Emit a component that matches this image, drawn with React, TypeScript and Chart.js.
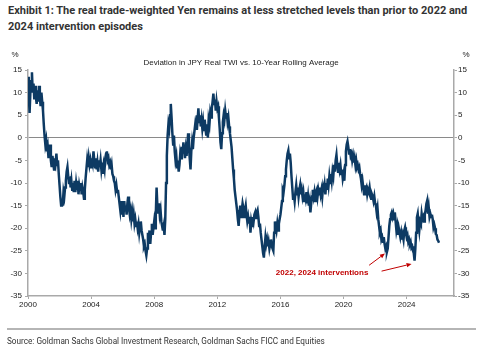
import React, { useEffect, useRef } from 'react';
import { Chart, registerables } from 'chart.js';

Chart.register(...registerables);

// Deviation of JPY real TWI from its 10-year rolling average (%), 20 readings per year from 2000
const values: number[] = [
  // 2000
  13.5, 9.5, 5.5, 10, 12.5, 14.5, 10, 12, 8.5, 11.5, 9, 7.5, 10.5, 8, 11.5, 9, 7, 10, 8, 6,
  // 2001
  3, 0.5, -1.5, -0.5, -3, -2, -4.5, -3, -1.5, -5, -6.5, -4, -5.5, -7, -4.5, -5.5, -3.5, -6, -5, -8,
  // 2002
  -10.5, -13, -15, -13.5, -15, -12, -13, -11, -9.5, -7.5, -6.5, -8.5, -10, -8.5, -11, -9.5, -11.5, -10, -12, -9.5,
  // 2003
  -12, -10, -11.5, -9.5, -12.5, -10.5, -11.5, -10, -12.5, -11, -12, -13.5, -11.5, -9, -7, -5, -6.5, -4.5, -6, -5,
  // 2004
  -6.5, -4.5, -5.5, -3, -5, -6.5, -4.5, -7, -5.5, -7.5, -5, -6.5, -5, -7, -5.5, -8, -6, -7, -4.5, -3.5,
  // 2005
  -3, -5, -4.5, -6, -5.5, -7, -6, -8, -8.5, -9.5, -10, -11.5, -10.5, -12, -11.5, -13, -14.5, -16, -14, -17,
  // 2006
  -15, -17.5, -14, -16, -15, -17, -14.5, -13, -15.5, -17, -16, -18, -16.5, -18.5, -17, -19, -18, -19.5, -18.5, -20,
  // 2007
  -19, -21, -19.5, -18.5, -20.5, -21.5, -22.5, -24, -23.5, -25, -26, -24.5, -21, -23, -20.5, -23.5, -21, -19, -21.5, -20,
  // 2008
  -18.5, -20, -17, -11, -15, -16.5, -14.5, -17, -16, -18.5, -19.5, -20.5, -19.5, -21.5, -18, -10, -4, 0.5, 3, 2,
  // 2009
  5, 7.5, 4.5, 1, -1.5, 0.5, -3, -5, -4, -6.5, -5, -7.5, -6, -3.5, -4.5, -2, -3.5, -1, -3, -4.5,
  // 2010
  -2.5, -4, -1.5, 1, -2, -4.5, -7, -3, -1, -2.5, 0, 1.5, 3, 2, 5, 4, 6.5, 3.5, 5, 2.5,
  // 2011
  4, 2, 3.5, 1.5, 4, 2, 0.5, 3, 0, 4, 3, 5.5, 4.5, 6.5, 8, 9.8, 7.5, 8.5, 6, 8,
  // 2012
  6.5, 7, 4.5, 2, -1, -2.5, 1, 3.5, 5, 4, 6, 4.5, 5.5, 3.5, 4.5, 2.5, 1, -0.5, -2, -4.5,
  // 2013
  -7, -9, -11.5, -13, -14.5, -16, -18, -19.5, -17, -15, -17.5, -16, -14.5, -15.5, -17.5, -16, -15, -17, -18.5, -17.5,
  // 2014
  -19, -17.5, -21, -18.5, -19.5, -17.5, -18.5, -17, -16.5, -18, -16.5, -16, -17.5, -19.5, -19, -21, -22.5, -24, -25.5, -26.5,
  // 2015
  -24, -22, -23.5, -22.5, -24, -23, -24.5, -23.5, -22.5, -24, -24.5, -25, -21, -18.5, -19.5, -20.5, -19, -20.5, -19, -18,
  // 2016
  -17, -15.5, -14, -11.5, -12, -10.5, -8.5, -7, -5, -3.5, -2.8, -4.5, -3.5, -5.5, -8.5, -11, -13.5, -12.5, -14, -12,
  // 2017
  -10.5, -12.5, -11, -13, -11.5, -10.5, -12.5, -11.5, -13, -12, -14, -12.5, -13.5, -12, -14.5, -13, -15, -14, -16.5, -14.5,
  // 2018
  -13, -11.5, -13, -12, -14, -12, -11.5, -13, -11.5, -12.5, -11, -12.5, -11.5, -13, -11, -12, -10.5, -12.5, -10, -11.5,
  // 2019
  -9, -10.5, -8.5, -10, -8, -9.5, -7.5, -8.5, -6, -7.5, -5, -3.8, -6, -7.5, -5.5, -7, -6, -8, -7, -9,
  // 2020
  -8, -9.5, -6, -3, -1.5, -0.8, -2, -3.5, -2.5, -4, -3.5, -5, -4, -5.5, -4.5, -6, -5, -6.5, -6, -7,
  // 2021
  -6.5, -8, -9, -10.5, -9.5, -11, -12.5, -10.5, -11.5, -11, -12.5, -11.5, -12, -11, -12.5, -13.5, -12.5, -13, -14, -13,
  // 2022
  -14.5, -15, -16.5, -15.5, -18, -19.5, -21, -20.5, -22.5, -22, -23, -22, -23.5, -24.5, -24, -25.2, -24.5, -22, -19.5, -18,
  // 2023
  -17, -16.5, -17.5, -16.8, -18, -16.5, -18.5, -20.5, -19.5, -21.5, -20, -21, -22, -21, -22.5, -21.5, -22.5, -20.5, -19.8, -21,
  // 2024
  -22, -21.5, -23, -22.5, -23.5, -23, -24.3, -24, -25, -25.5, -27.2, -24.5, -21, -17.6, -16.8, -19, -20.5, -18.5, -19, -16.8,
  // 2025
  -18, -17.5, -18.5, -17, -16, -14.6, -13.9, -16.8, -15.5, -17.5, -16.8, -17.5, -17, -18, -19.8, -19.2, -20, -21.3, -21.5, -22.5,
  // 2026
  -22.8, -23.2,
];

const START_YEAR = 2000;
const READINGS_PER_YEAR = 20;
const dates: number[] = values.map((_, i) => START_YEAR + i / READINGS_PER_YEAR);

const xTicks = [2000, 2004, 2008, 2012, 2016, 2020, 2024];
const yTicks = [15, 10, 5, 0, -5, -10, -15, -20, -25, -30, -35];

const titleLine1 = 'Exhibit 1: The real trade-weighted Yen remains at less stretched levels than prior to 2022 and';
const titleLine2 = '2024 intervention episodes';
const chartSubtitle = 'Deviation in JPY Real TWI vs. 10-Year Rolling Average';
const unitLabel = '%';
const annotationText = '2022, 2024 interventions';
const sourceText = 'Source: Goldman Sachs Global Investment Research, Goldman Sachs FICC and Equities';

// annotation anchor points in data coordinates [year, value]
const annotationPos: [number, number] = [2018.64, -29.9];
const arrows: [number, number, number, number][] = [
  [2021.62, -28.2, 2022.62, -25.6],
  [2022.41, -29.5, 2024.31, -27.9],
];

const FONT = '"Liberation Sans", Arial, sans-serif';

const overlayPlugin = {
  id: 'overlay',
  afterDraw(chart: any) {
    const { ctx, chartArea, scales } = chart;
    const sx = scales.x;
    const sy = scales.y;
    ctx.save();
    ctx.fillStyle = '#222';
    ctx.font = `8px ${FONT}`;
    ctx.textBaseline = 'middle';
    ctx.textAlign = 'center';
    ctx.fillText(chartSubtitle, (chartArea.left + chartArea.right) / 2, 63);
    ctx.fillText(unitLabel, 15, 55);
    ctx.fillText(unitLabel, 466, 55);

    ctx.fillStyle = '#c00000';
    ctx.strokeStyle = '#c00000';
    ctx.font = `bold 8px ${FONT}`;
    ctx.fillText(annotationText, sx.getPixelForValue(annotationPos[0]), sy.getPixelForValue(annotationPos[1]));
    ctx.lineWidth = 1;
    for (const [x0, y0, x1, y1] of arrows) {
      const px0 = sx.getPixelForValue(x0);
      const py0 = sy.getPixelForValue(y0);
      const px1 = sx.getPixelForValue(x1);
      const py1 = sy.getPixelForValue(y1);
      const ang = Math.atan2(py1 - py0, px1 - px0);
      const hl = 5;
      const hw = 2.2;
      const bx = px1 - hl * Math.cos(ang);
      const by = py1 - hl * Math.sin(ang);
      ctx.beginPath();
      ctx.moveTo(px0, py0);
      ctx.lineTo(bx, by);
      ctx.stroke();
      ctx.beginPath();
      ctx.moveTo(px1, py1);
      ctx.lineTo(bx + hw * Math.sin(ang), by - hw * Math.cos(ang));
      ctx.lineTo(bx - hw * Math.sin(ang), by + hw * Math.cos(ang));
      ctx.closePath();
      ctx.fill();
    }
    ctx.restore();
  },
};

const AXIS_COLOR = '#a9a9a9';
const TICK_FONT = { family: FONT, size: 8 };

export default function App() {
  const canvasRef = useRef<HTMLCanvasElement | null>(null);

  useEffect(() => {
    if (!canvasRef.current) return;
    const chart = new Chart(canvasRef.current, {
      type: 'line',
      data: {
        datasets: [
          {
            data: dates.map((d, i) => ({ x: d, y: values[i] })),
            borderColor: '#0d3a63',
            borderWidth: 2.5,
            pointRadius: 0,
            tension: 0,
            fill: false,
          },
        ],
      },
      options: {
        animation: false,
        responsive: false,
        devicePixelRatio: 1,
        layout: { padding: { top: 70, left: 0, right: 0, bottom: 0 } },
        plugins: { legend: { display: false }, tooltip: { enabled: false }, title: { display: false } },
        scales: {
          x: {
            type: 'linear',
            min: 2000,
            max: 2027,
            afterFit: (s: any) => { s.height = 54; },
            afterBuildTicks: (s: any) => { s.ticks = xTicks.map((v) => ({ value: v })); },
            ticks: { callback: (v: any) => String(v), color: '#222', font: TICK_FONT, padding: 1, maxRotation: 0, autoSkip: false },
            grid: { drawOnChartArea: false, tickLength: 3, tickColor: AXIS_COLOR },
            border: { color: AXIS_COLOR, width: 1.5 },
          },
          y: {
            type: 'linear',
            position: 'left',
            min: -35,
            max: 15,
            afterFit: (s: any) => { s.width = 28; },
            afterBuildTicks: (s: any) => { s.ticks = yTicks.map((v) => ({ value: v })); },
            ticks: { color: '#222', font: TICK_FONT, padding: 3 },
            grid: {
              color: (c: any) => (c.tick && c.tick.value === 0 ? '#8a8a8a' : 'rgba(0,0,0,0)'),
              lineWidth: 1,
              tickLength: 3,
              tickColor: AXIS_COLOR,
            },
            border: { color: AXIS_COLOR, width: 1.5 },
          },
          y2: {
            type: 'linear',
            position: 'right',
            min: -35,
            max: 15,
            afterFit: (s: any) => { s.width = 33; },
            afterBuildTicks: (s: any) => { s.ticks = yTicks.map((v) => ({ value: v })); },
            ticks: { color: '#222', font: TICK_FONT, padding: 1 },
            grid: { drawOnChartArea: false, tickLength: 3, tickColor: AXIS_COLOR },
            border: { color: AXIS_COLOR, width: 1.5 },
          },
        },
      },
      plugins: [overlayPlugin],
    } as any);
    return () => chart.destroy();
  }, []);

  return (
    <div style={{ position: 'fixed', left: 0, top: 0, width: 487, height: 350, background: '#fff', overflow: 'hidden' }}>
      <div
        style={{
          position: 'absolute', left: 8, top: 3, width: 480,
          fontFamily: 'Roboto, "Liberation Sans", sans-serif', fontWeight: 700, fontSize: 11,
          lineHeight: '16px', color: '#333', whiteSpace: 'nowrap',
        }}
      >
        <div>{titleLine1}</div>
        <div>{titleLine2}</div>
      </div>
      <canvas ref={canvasRef} width={487} height={350} style={{ position: 'absolute', left: 0, top: 0 }} />
      <div style={{ position: 'absolute', left: 7, top: 328, width: 469, height: 1.5, background: '#b5b5b5' }} />
      <div
        style={{
          position: 'absolute', left: 7, top: 336, whiteSpace: 'nowrap',
          fontFamily: 'Roboto, "Liberation Sans", sans-serif', fontSize: 8.2, color: '#333', lineHeight: '10px',
        }}
      >
        {sourceText}
      </div>
    </div>
  );
}
